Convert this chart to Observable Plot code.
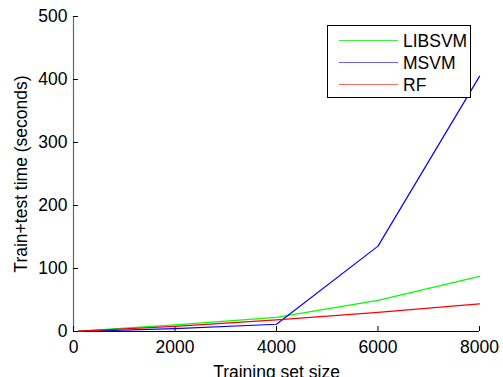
<!DOCTYPE html>
<html>
<head>
<meta charset="utf-8">
<script src="https://cdn.jsdelivr.net/npm/d3@7"></script>
<script src="https://cdn.jsdelivr.net/npm/@observablehq/plot@0.6"></script>
<style>
  html, body { margin: 0; padding: 0; background: #fff; }
  #wrap { position: relative; width: 503px; height: 377px; overflow: hidden; font-family: "Liberation Sans", Arial, sans-serif; }
  #legend { position: absolute; left: 327px; top: 25px; width: 144px; height: 73px; border: 1.5px solid #000; background: #fff; box-sizing: border-box; }
  #legend .row { position: absolute; left: 0; height: 22px; width: 100%; }
  #legend .sw { position: absolute; left: 11px; width: 59px; top: 10px; height: 1.4px; }
  #legend .lb { position: absolute; left: 75px; top: 0; font-size: 17.5px; line-height: 22px; color: #000; }
</style>
</head>
<body>
<div id="wrap"></div>
<script>
const sizes = [100, 2000, 4000, 6000, 8000];
const libsvm = [0.8, 10.5, 22.5, 49.5, 87.5];
const msvm = [0.3, 4.5, 11.5, 135.5, 405];
const rf = [0.6, 8, 18.5, 30.5, 44];
const seriesNames = ["LIBSVM", "MSVM", "RF"];
const seriesColors = ["#00ff00", "#0000ff", "#ff0000"];
const legendColors = ["#44ee44", "#6666ff", "#ff6666"];
const xTicks = [0, 2000, 4000, 6000, 8000];
const yTicks = [0, 100, 200, 300, 400, 500];

const values = [libsvm, msvm, rf];
const rows = [];
seriesNames.forEach((name, i) => sizes.forEach((s, j) => rows.push({series: name, x: s, y: values[i][j]})));

const chart = Plot.plot({
  width: 503,
  height: 377,
  marginLeft: 73,
  marginRight: 24,
  marginTop: 16,
  marginBottom: 46,
  style: {fontFamily: "Liberation Sans, Arial, sans-serif", fontSize: "17px", color: "#000", background: "#fff"},
  x: {domain: [0, 8000]},
  y: {domain: [0, 500]},
  color: {domain: seriesNames, range: seriesColors},
  marks: [
    Plot.ruleX([0], {stroke: "#666", strokeWidth: 1.2}),
    Plot.ruleY([0], {stroke: "#000", strokeWidth: 1.2}),
    Plot.axisX({ticks: xTicks, tickFormat: d => String(d), tickSize: -5, tickPadding: 14, label: "Training set size", labelAnchor: "center", labelArrow: "none", labelOffset: 46, fontSize: 17.5}),
    Plot.axisY({ticks: yTicks, tickFormat: d => String(d), tickSize: -5, tickPadding: 11, label: "Train+test time (seconds)", labelAnchor: "center", labelArrow: "none", labelOffset: 59, fontSize: 17.5}),
    Plot.line(rows, {x: "x", y: "y", z: "series", stroke: "series", strokeWidth: 1.2})
  ]
});

const wrap = document.getElementById("wrap");
wrap.appendChild(chart);

const legend = document.createElement("div");
legend.id = "legend";
seriesNames.forEach((name, i) => {
  const row = document.createElement("div");
  row.className = "row";
  row.style.top = (4 + i * 22) + "px";
  const sw = document.createElement("div");
  sw.className = "sw";
  sw.style.background = legendColors[i];
  const lb = document.createElement("div");
  lb.className = "lb";
  lb.textContent = name;
  row.appendChild(sw);
  row.appendChild(lb);
  legend.appendChild(row);
});
wrap.appendChild(legend);
</script>
</body>
</html>
